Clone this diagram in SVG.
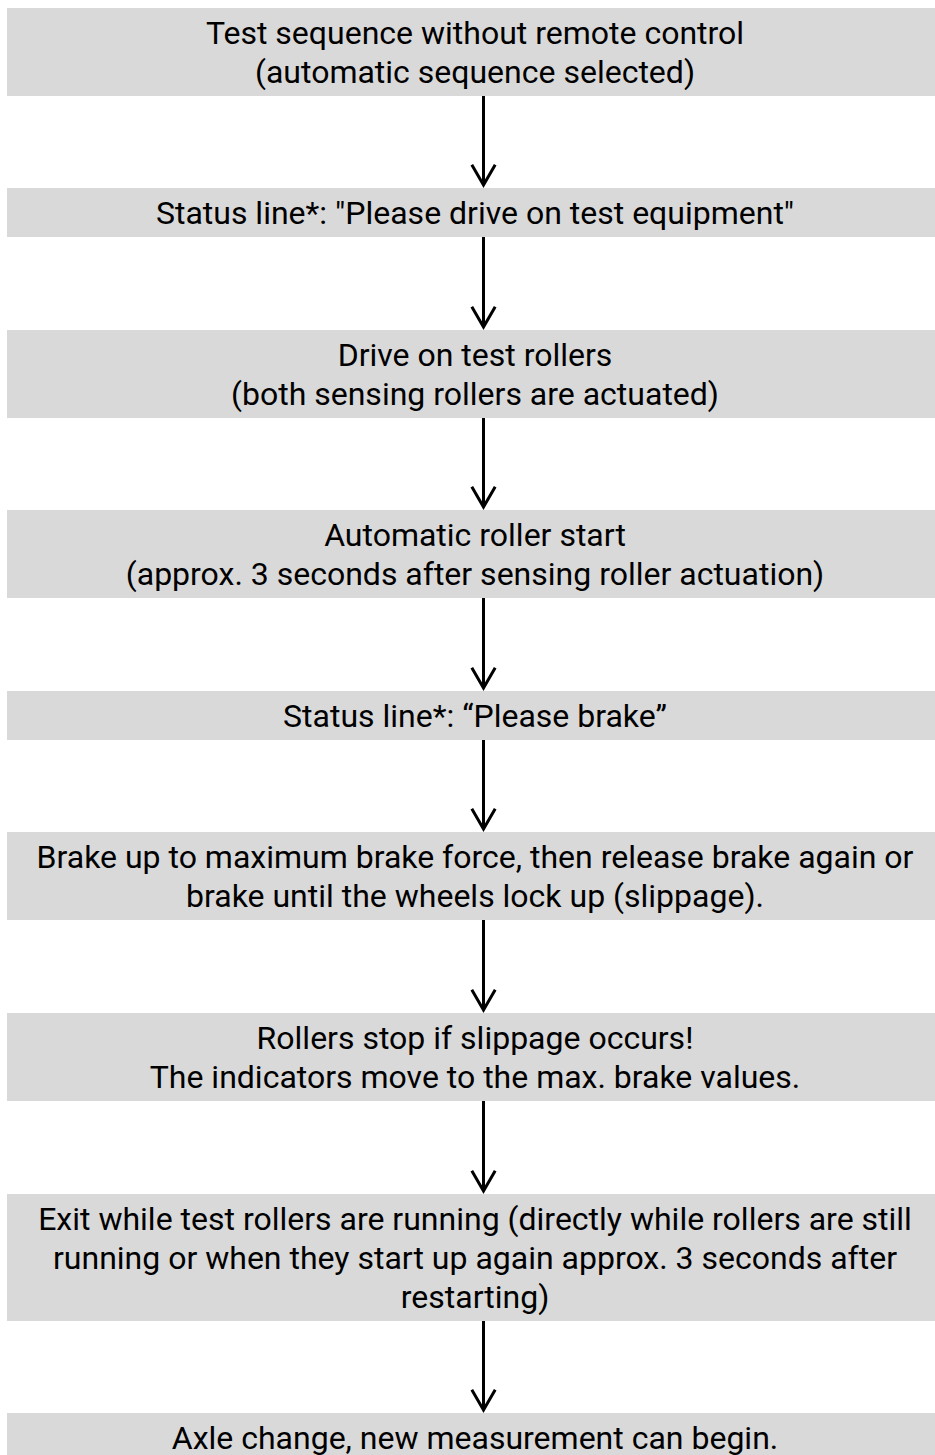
<svg xmlns="http://www.w3.org/2000/svg" width="935" height="1455" viewBox="0 0 935 1455">
  <style>
    .box { fill: #d9d9d9; }
    .lbl { font-family: Roboto, "Liberation Sans", sans-serif; font-size: 32px; fill: #000; text-anchor: middle; }
    .edge { stroke: #000; stroke-width: 3; fill: none; }
  </style>
  <defs>
    <marker id="arrow" markerUnits="userSpaceOnUse" orient="auto" refX="0" refY="0" markerWidth="40" markerHeight="40" viewBox="-30 -20 40 40" overflow="visible">
      <path d="M-20.3,-11.7 L0,0 L-20.3,11.7" fill="none" stroke="#000" stroke-width="3" stroke-linejoin="miter"/>
    </marker>
  </defs>
  <rect width="935" height="1455" fill="#fff"/>
  <g id="n1">
    <rect class="box" x="7" y="8" width="936" height="88"/>
    <text class="lbl" x="475" y="44">Test sequence without remote control</text>
    <text class="lbl" x="475" y="83">(automatic sequence selected)</text>
  </g>
  <g id="n2">
    <rect class="box" x="7" y="188" width="936" height="49"/>
    <text class="lbl" x="475" y="224">Status line*: "Please drive on test equipment"</text>
  </g>
  <g id="n3">
    <rect class="box" x="7" y="330" width="936" height="88"/>
    <text class="lbl" x="475" y="366">Drive on test rollers</text>
    <text class="lbl" x="475" y="405">(both sensing rollers are actuated)</text>
  </g>
  <g id="n4">
    <rect class="box" x="7" y="510" width="936" height="88"/>
    <text class="lbl" x="475" y="546">Automatic roller start</text>
    <text class="lbl" x="475" y="585">(approx. 3 seconds after sensing roller actuation)</text>
  </g>
  <g id="n5">
    <rect class="box" x="7" y="691" width="936" height="49"/>
    <text class="lbl" x="475" y="727">Status line*: “Please brake”</text>
  </g>
  <g id="n6">
    <rect class="box" x="7" y="832" width="936" height="88"/>
    <text class="lbl" x="475" y="868">Brake up to maximum brake force, then release brake again or</text>
    <text class="lbl" x="475" y="907">brake until the wheels lock up (slippage).</text>
  </g>
  <g id="n7">
    <rect class="box" x="7" y="1013" width="936" height="88"/>
    <text class="lbl" x="475" y="1049">Rollers stop if slippage occurs!</text>
    <text class="lbl" x="475" y="1088">The indicators move to the max. brake values.</text>
  </g>
  <g id="n8">
    <rect class="box" x="7" y="1194" width="936" height="127"/>
    <text class="lbl" x="475" y="1230">Exit while test rollers are running (directly while rollers are still</text>
    <text class="lbl" x="475" y="1269">running or when they start up again approx. 3 seconds after</text>
    <text class="lbl" x="475" y="1308">restarting)</text>
  </g>
  <g id="n9">
    <rect class="box" x="7" y="1413" width="936" height="49"/>
    <text class="lbl" x="475" y="1449">Axle change, new measurement can begin.</text>
  </g>
  <g id="connectors">
    <path class="edge" d="M483.5,96 V185" marker-end="url(#arrow)"/>
    <path class="edge" d="M483.5,237 V327" marker-end="url(#arrow)"/>
    <path class="edge" d="M483.5,418 V507" marker-end="url(#arrow)"/>
    <path class="edge" d="M483.5,598 V688" marker-end="url(#arrow)"/>
    <path class="edge" d="M483.5,740 V829" marker-end="url(#arrow)"/>
    <path class="edge" d="M483.5,920 V1010" marker-end="url(#arrow)"/>
    <path class="edge" d="M483.5,1101 V1191" marker-end="url(#arrow)"/>
    <path class="edge" d="M483.5,1321 V1410" marker-end="url(#arrow)"/>
  </g>
</svg>
